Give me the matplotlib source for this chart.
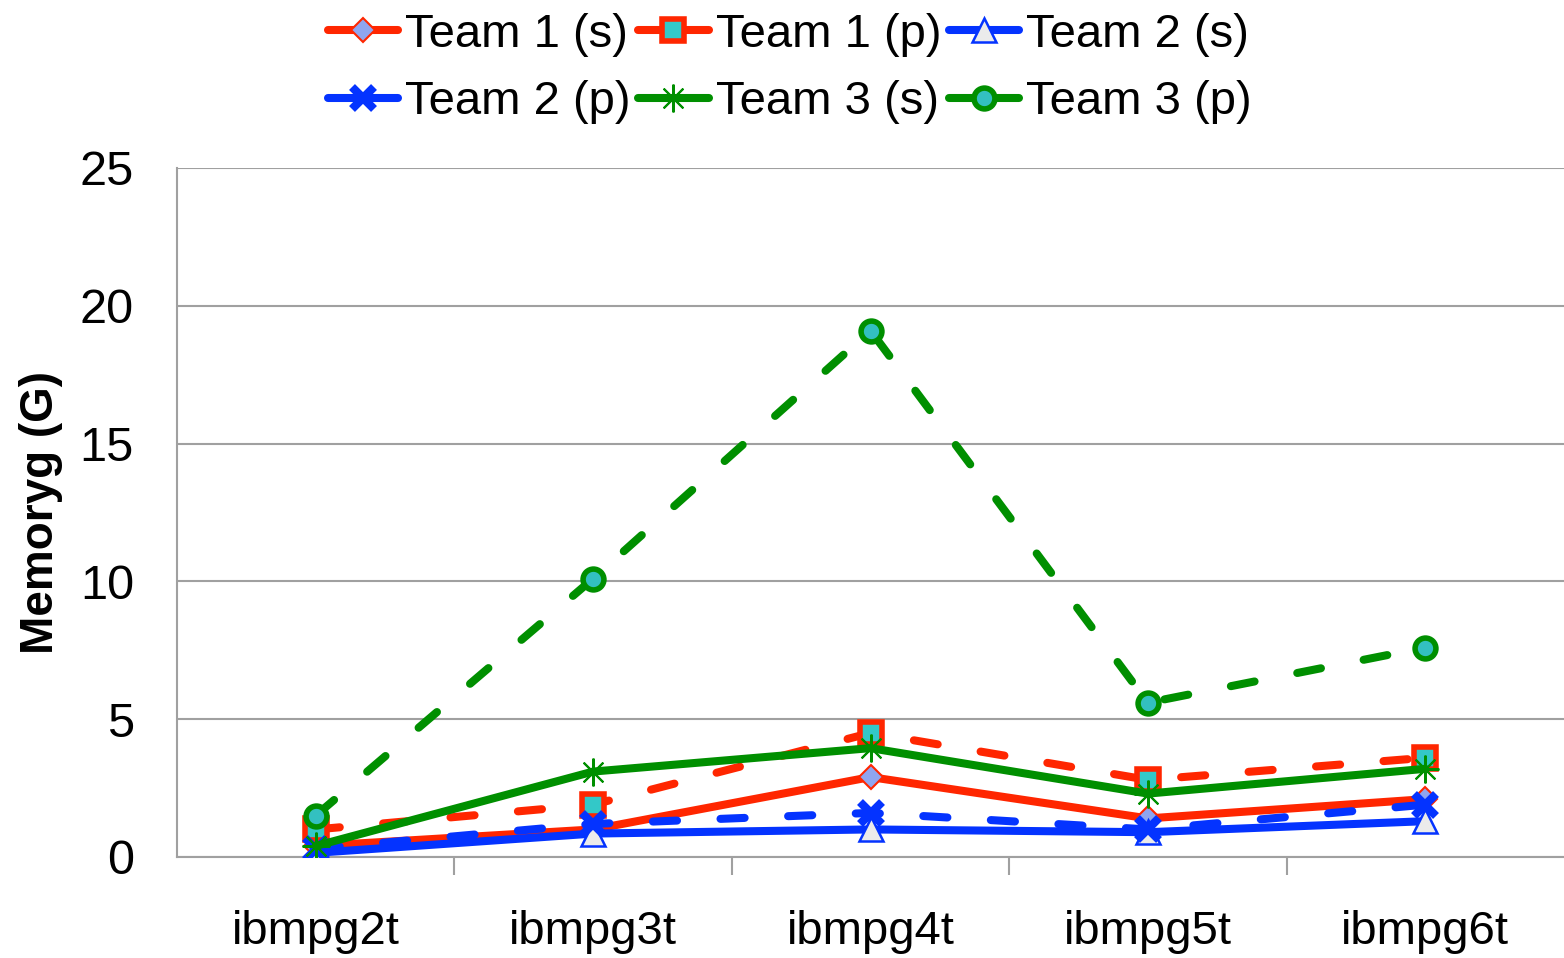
import matplotlib
matplotlib.use("Agg")
import matplotlib.pyplot as plt
from matplotlib.lines import Line2D

plt.rcParams['font.family'] = ['Liberation Sans', 'DejaVu Sans']

categories = ["ibmpg2t", "ibmpg3t", "ibmpg4t", "ibmpg5t", "ibmpg6t"]
team1_s = [0.4, 1.0, 2.9, 1.4, 2.1]
team1_p = [1.0, 1.9, 4.5, 2.8, 3.6]
team2_s = [0.15, 0.85, 1.0, 0.9, 1.3]
team2_p = [0.3, 1.2, 1.6, 1.0, 1.9]
team3_s = [0.4, 3.1, 3.95, 2.3, 3.2]
team3_p = [1.5, 10.1, 19.1, 5.6, 7.6]
yticks = [0, 5, 10, 15, 20, 25]

RED = "#FF2600"
BLUE = "#0433FF"
GREEN = "#008F00"

fig = plt.figure(figsize=(15.64, 9.58), dpi=100)
ax = fig.add_axes([177/1564, 101/958, 1 - 177/1564, (857-168)/958])

x = [i + 0.5 for i in range(len(categories))]
lw = 5.8
dash = (3.0, 5.4)

series = [
    ("Team 1 (s)", team1_s, RED, '-', dict(marker='D', markersize=12, markerfacecolor='#8FA5F0', markeredgecolor=RED, markeredgewidth=1.5)),
    ("Team 1 (p)", team1_p, RED, '--', dict(marker='s', markersize=16, markerfacecolor='#33C8C8', markeredgecolor=RED, markeredgewidth=4)),
    ("Team 2 (s)", team2_s, BLUE, '-', dict(marker='^', markersize=17, markerfacecolor='#EBEBEB', markeredgecolor=BLUE, markeredgewidth=1.8)),
    ("Team 2 (p)", team2_p, BLUE, '--', dict(marker='x', markersize=16, markeredgecolor=BLUE, markeredgewidth=6)),
    ("Team 3 (s)", team3_s, GREEN, '-', dict(marker=(8, 2, 0), markersize=20, markeredgecolor=GREEN, markeredgewidth=1.5)),
    ("Team 3 (p)", team3_p, GREEN, '--', dict(marker='o', markersize=15, markerfacecolor='#33C0C0', markeredgecolor=GREEN, markeredgewidth=4)),
]

handles = {}
for name, vals, col, ls, mk in series:
    ln, = ax.plot(x, vals, color=col, linewidth=lw, solid_capstyle='round',
                  dash_capstyle='round', solid_joinstyle='round', label=name, zorder=3, **mk)
    if ls == '--':
        ln.set_dashes(dash)
    h = Line2D([0], [0], color=col, linewidth=lw, solid_capstyle='round', **mk)
    handles[name] = h

ax.set_xlim(0, 5)
ax.set_ylim(0, 25)
ax.set_yticks(yticks)
ax.set_yticklabels([str(v) for v in yticks], fontsize=35)
ax.set_xticks([1, 2, 3, 4])
ax.set_xticklabels([])
ax.set_xticks(x, minor=True)
ax.set_xticklabels(categories, minor=True, fontsize=34)
ax.tick_params(axis='x', which='minor', length=0, pad=38)
ax.tick_params(axis='x', which='major', length=13, width=1.5, color='#A0A0A0', direction='out')
ax.tick_params(axis='y', length=0, pad=31)

ax.grid(axis='y', color='#A0A0A0', linewidth=1.5)
ax.set_axisbelow(True)
for s in ['top', 'right']:
    ax.spines[s].set_visible(False)
ax.spines['left'].set_color('#A0A0A0')
ax.spines['left'].set_linewidth(1.5)
ax.spines['bottom'].set_color('#A0A0A0')
ax.spines['bottom'].set_linewidth(1.5)

ax.set_ylabel("Memoryg (G)", fontsize=33, fontweight='bold', labelpad=12)

order = ["Team 1 (s)", "Team 2 (p)", "Team 1 (p)", "Team 3 (s)", "Team 2 (s)", "Team 3 (p)"]
fig.legend([handles[n] for n in order], order, loc='upper center', bbox_to_anchor=(0.505, 1.031),
           ncol=3, frameon=False, fontsize=34, handlelength=1.5, handletextpad=0.15,
           columnspacing=0.15, labelspacing=0.5)

fig.savefig("out.png", dpi=100)
